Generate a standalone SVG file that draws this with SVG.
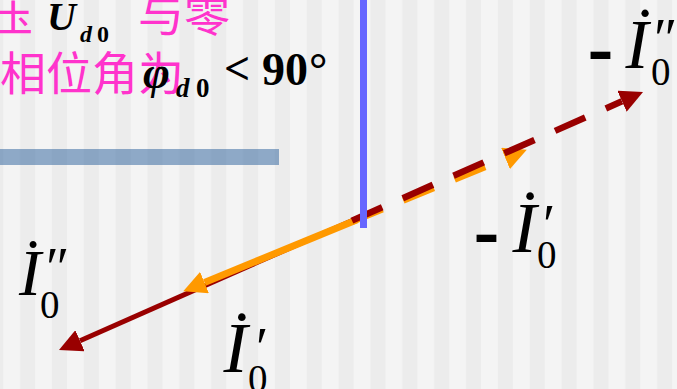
<svg xmlns="http://www.w3.org/2000/svg" width="677" height="389" viewBox="0 0 677 389">
<defs>
<pattern id="stripes" patternUnits="userSpaceOnUse" x="3.3" y="0" width="31.85" height="389">
<rect x="0" y="0" width="16.6" height="389" fill="#f4f4f4"/>
<rect x="16.6" y="0" width="15.25" height="389" fill="#ececec"/>
</pattern>
<marker id="ahRed" viewBox="0 0 23 23" refX="0" refY="11.5" markerWidth="23" markerHeight="23" markerUnits="userSpaceOnUse" orient="auto">
<path d="M0,0 L23,11.5 L0,23 Z" fill="#990000"/>
</marker>
<marker id="ahOrange" viewBox="0 0 23 23" refX="0" refY="11.5" markerWidth="23" markerHeight="23" markerUnits="userSpaceOnUse" orient="auto">
<path d="M0,0 L23,11.5 L0,23 Z" fill="#ff9900"/>
</marker>
</defs>
<style>
.cjk{font-family:"Noto Sans CJK SC","Noto Sans CJK JP",sans-serif;fill:#ff33cc;font-size:46px}
.m{font-family:"Liberation Serif","Times New Roman",serif;fill:#000}
.bi{font-weight:bold;font-style:italic}
.b{font-weight:bold}
.it{font-style:italic}
.dash{font-family:"Liberation Sans",Arial,sans-serif;font-weight:bold;font-size:62px;fill:#000}
.red{stroke:#990000;fill:none}
.org{stroke:#ff9900;fill:none}
</style>
<rect x="0" y="0" width="677" height="389" fill="url(#stripes)"/>
<rect id="bar" x="0" y="149" width="279" height="16" fill="#4a77a8" fill-opacity="0.6"/>
<g id="caption">
<text class="cjk" x="-13" y="31">压</text>
<text class="m bi" x="47" y="30" font-size="40">U</text>
<text class="m bi" x="80" y="41.5" font-size="24">d</text>
<text class="m b" x="97" y="41.5" font-size="24">0</text>
<text class="cjk" x="138" y="31">与零</text>
<text class="cjk" x="0" y="90">相位角为</text>
<text class="m bi" x="143" y="88" font-size="46">φ</text>
<text class="m bi" x="176" y="97" font-size="27">d</text>
<text class="m b" x="196" y="97" font-size="27">0</text>
<text class="m b" x="224" y="84" font-size="46">&lt;</text>
<text class="m b" x="262" y="85" font-size="46">90<tspan dx="1">°</tspan></text>
</g>
<g id="connectors">
<line class="red" x1="362" y1="216.2" x2="80" y2="340.7" stroke-width="5" marker-end="url(#ahRed)"/>
<line class="org" x1="357" y1="219.7" x2="204.5" y2="282.5" stroke-width="7" marker-end="url(#ahOrange)"/>
<line class="org" x1="352" y1="221.7" x2="505.5" y2="158.5" stroke-width="6.5" stroke-dasharray="33 22.5" marker-end="url(#ahOrange)"/>
<line class="red" x1="352" y1="220.6" x2="622" y2="101.3" stroke-width="6.5" stroke-dasharray="33 22.5" marker-end="url(#ahRed)"/>
</g>
<rect id="axis" x="360" y="0" width="7" height="228" fill="#6666ff"/>
<g id="label-I0pp">
<text class="m" x="22" y="284.6" font-size="66">˙</text>
<text class="m it" x="19" y="295" font-size="66">I</text>
<text class="m" x="46" y="286.5" font-size="56">″</text>
<text class="m" x="40" y="317.5" font-size="39">0</text>
</g>
<g id="label-I0p">
<text class="m" x="229.7" y="361.4" font-size="72">˙</text>
<text class="m it" x="223.5" y="372" font-size="72">I</text>
<text class="m" x="256" y="366.5" font-size="56">′</text>
<text class="m" x="248" y="392" font-size="39">0</text>
</g>
<g id="label-neg-I0p">
<text class="dash" transform="translate(473.5,254.4) scale(1.26,1)">-</text>
<text class="m" x="518" y="240.4" font-size="72">˙</text>
<text class="m it" x="512.5" y="252" font-size="72">I</text>
<text class="m" x="543" y="243.5" font-size="56">′</text>
<text class="m" x="537" y="268" font-size="39">0</text>
</g>
<g id="label-neg-I0pp">
<text class="dash" transform="translate(587.5,71.4) scale(1.26,1)">-</text>
<text class="m" x="633.5" y="56.2" font-size="69">˙</text>
<text class="m it" x="625.5" y="68" font-size="69">I</text>
<text class="m" x="654" y="57.5" font-size="56">″</text>
<text class="m" x="651" y="85" font-size="39">0</text>
</g>
</svg>
